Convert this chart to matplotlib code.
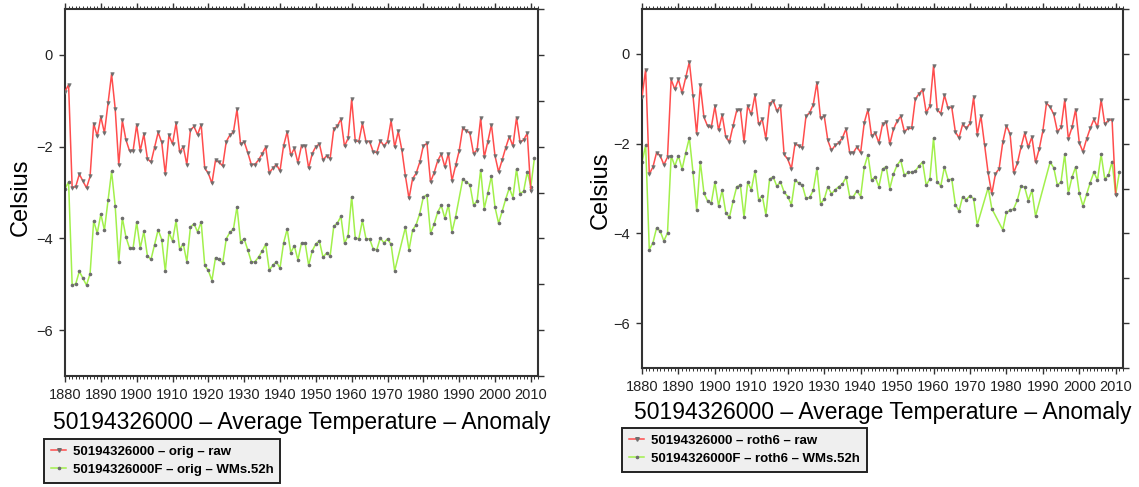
import matplotlib
matplotlib.use("Agg")
import matplotlib.pyplot as plt
from matplotlib.ticker import MultipleLocator
from matplotlib.lines import Line2D

plt.rcParams["font.family"] = ["Liberation Sans", "DejaVu Sans"]

# --- data (Celsius anomalies) ---
station = "50194326000"
raw_years = list(range(1880, 2011))

orig_raw = [
    -0.80, -0.65, -2.90, -2.87, -2.60, -2.75, -2.90, -2.65, -1.50, -1.77,
    -1.35, -1.70, -1.05, -0.42, -1.17, -2.40, -1.43, -1.85, -2.09, -2.09,
    -1.53, -2.09, -1.73, -2.26, -2.34, -2.02, -1.69, -1.91, -2.60, -1.75,
    -1.94, -1.49, -2.12, -2.00, -2.39, -1.64, -1.56, -1.74, -1.52, -2.47,
    -2.58, -2.80, -2.30, -2.34, -2.42, -1.89, -1.75, -1.68, -1.19, -1.95,
    -1.89, -2.13, -2.39, -2.39, -2.29, -2.16, -2.01, -2.57, -2.47, -2.39,
    -2.53, -1.98, -1.68, -2.19, -2.04, -2.35, -1.98, -1.98, -2.47, -2.15,
    -2.00, -1.94, -2.29, -2.20, -2.26, -1.62, -1.55, -1.40, -1.99, -1.82,
    -0.97, -1.87, -1.89, -1.49, -1.89, -1.89, -2.11, -2.13, -1.87, -1.98,
    -1.89, -1.43, -2.01, -1.67, -2.07, -2.64, -3.13, -2.70, -2.58, -2.34,
    -1.98, -1.93, -2.77, -2.57, -2.31, -2.16, -2.44, -2.15, -2.74, -2.41,
    -2.09, -1.59, -1.65, -1.71, -2.15, -2.07, -1.38, -2.23, -1.89, -1.52,
    -2.20, -2.55, -2.29, -2.02, -1.78, -1.99, -1.37, -1.91, -1.85, -1.71,
    -2.97,
]

orig_gaps = [1973, 1974, 1990]
orig_adj = [
    -2.92, -2.77, -5.02, -4.99, -4.72, -4.87, -5.02, -4.77, -3.62, -3.89,
    -3.47, -3.82, -3.17, -2.54, -3.29, -4.52, -3.55, -3.97, -4.21, -4.21,
    -3.65, -4.21, -3.85, -4.38, -4.46, -4.14, -3.81, -4.03, -4.72, -3.87,
    -4.06, -3.61, -4.24, -4.12, -4.51, -3.76, -3.68, -3.86, -3.64, -4.59,
    -4.70, -4.92, -4.42, -4.46, -4.54, -4.01, -3.87, -3.80, -3.31, -4.07,
    -4.01, -4.25, -4.51, -4.51, -4.41, -4.28, -4.13, -4.69, -4.59, -4.51,
    -4.65, -4.10, -3.80, -4.31, -4.16, -4.47, -4.10, -4.10, -4.59, -4.27,
    -4.12, -4.06, -4.41, -4.32, -4.38, -3.74, -3.67, -3.52, -4.11, -3.94,
    -3.09, -3.99, -4.01, -3.61, -4.01, -4.01, -4.23, -4.25, -3.99, -4.10,
    -4.01, -4.13, -4.71, -3.76, -4.25, -3.82, -3.70, -3.46,
    -3.10, -3.05, -3.89, -3.69, -3.43, -3.28, -3.56, -3.27, -3.86, -3.53,
    -2.71, -2.77, -2.83, -3.27, -3.19, -2.50, -3.35, -3.01, -2.64,
    -3.32, -3.67, -3.41, -3.14, -2.90, -3.11, -2.49, -3.03, -2.97, -2.55,
    -2.87, -2.25,
]

roth6_raw = [
    -0.96, -0.35, -2.68, -2.52, -2.20, -2.27, -2.47, -2.30, -0.57, -0.79,
    -0.57, -0.87, -0.52, -0.18, -0.94, -1.79, -0.70, -1.41, -1.61, -1.64,
    -1.17, -1.70, -1.36, -1.85, -1.96, -1.60, -1.26, -1.24, -1.96, -1.16,
    -1.35, -0.92, -1.57, -1.46, -1.89, -1.11, -1.04, -1.27, -1.16, -2.24,
    -2.35, -2.56, -2.00, -2.05, -2.09, -1.39, -1.31, -1.13, -0.64, -1.44,
    -1.38, -1.93, -2.15, -2.04, -1.98, -1.87, -1.67, -2.20, -2.20, -2.07,
    -2.20, -1.53, -1.24, -1.83, -1.76, -1.98, -1.57, -1.51, -2.01, -1.68,
    -1.50, -1.39, -1.73, -1.66, -1.66, -1.01, -0.89, -0.80, -1.31, -1.16,
    -0.27, -1.24, -1.33, -0.92, -1.21, -1.19, -1.74, -1.87, -1.57, -1.66,
    -1.55, -0.97, -1.80, -1.38, -2.02, -2.66, -3.12, -2.67, -2.56, -1.97,
    -1.60, -1.78, -2.65, -2.44, -2.08, -1.77, -2.08, -1.85, -2.42, -2.12,
    -1.72, -1.10, -1.18, -1.35, -1.73, -1.64, -1.03, -1.89, -1.64, -1.24,
    -1.98, -2.18, -1.90, -1.66, -1.46, -1.63, -1.02, -1.57, -1.48, -1.47,
    -3.14,
]

roth6_gaps = [1973, 1974, 1977, 1978, 1989, 1990, 1991]
roth6_adj = [
    -2.42, -2.03, -4.36, -4.21, -3.88, -3.95, -4.17, -3.99, -2.27, -2.50,
    -2.27, -2.57, -2.20, -1.87, -2.64, -3.49, -2.40, -3.10, -3.28, -3.33,
    -2.86, -3.38, -3.04, -3.54, -3.64, -3.28, -2.96, -2.93, -3.64, -2.86,
    -3.03, -2.61, -3.25, -3.16, -3.59, -2.79, -2.74, -2.95, -2.85, -3.08,
    -3.18, -3.36, -2.81, -2.88, -2.93, -3.22, -3.20, -3.04, -2.55, -3.34,
    -3.24, -2.96, -3.12, -3.03, -2.96, -2.90, -2.75, -3.18, -3.18, -3.05,
    -3.18, -2.52, -2.25, -2.81, -2.74, -2.96, -2.57, -2.51, -3.00, -2.68,
    -2.48, -2.37, -2.71, -2.64, -2.64, -2.61, -2.50, -2.41, -2.93, -2.78,
    -1.88, -2.85, -2.94, -2.52, -2.81, -2.79, -3.36, -3.50, -3.18, -3.25,
    -3.16, -3.23, -3.81, -2.98, -3.45, -3.92,
    -3.53, -3.49, -3.45, -3.26, -2.95, -2.97, -3.27, -3.04, -3.62,
    -2.41, -2.54, -2.93, -2.85, -2.24, -3.10, -2.75, -2.52,
    -3.10, -3.39, -3.13, -2.87, -2.64, -2.81, -2.24, -2.79, -2.70, -2.40,
    -3.13, -2.64,
]

RED = "#ff4d4d"
GREEN = "#a2f04c"
MARK = "#6e6e6e"
SPINE = "#333333"

W, H = 1139, 487
fig = plt.figure(figsize=(W / 100, H / 100), dpi=100)


def panel(box, method, raw, adj, gaps, title_y, legend_box, label_xy):
    l, t, r, b = box
    ax = fig.add_axes([l / W, 1 - b / H, (r - l) / W, (b - t) / H])
    adj_years = [y for y in range(1880, 2012) if y not in gaps]

    ax.plot(adj_years, adj, color=GREEN, lw=1.1, marker="o", ms=1.6,
            mfc=MARK, mec=MARK, zorder=2)
    ax.plot(raw_years, raw, color=RED, lw=1.1, marker="v", ms=2.6,
            mfc=MARK, mec=MARK, mew=0.4, zorder=3)

    ax.set_xlim(1880, 2012)
    ax.set_ylim(-7, 1)
    ax.xaxis.set_major_locator(MultipleLocator(10))
    ax.xaxis.set_minor_locator(MultipleLocator(1))
    ax.yaxis.set_major_locator(MultipleLocator(2))
    ax.yaxis.set_minor_locator(MultipleLocator(1))
    ax.tick_params(axis="x", which="major", direction="out", top=True,
                   length=4.5, width=1, color=SPINE, labelsize=10.5, pad=4)
    ax.tick_params(axis="x", which="minor", direction="out", top=True,
                   length=2, width=0.7, color=SPINE)
    ax.tick_params(axis="y", which="major", direction="out", left=True,
                   right=True, length=4, width=1, color=SPINE,
                   labelsize=10.5, pad=5)
    ax.tick_params(axis="y", which="minor", direction="out", left=False,
                   right=True, length=4, width=1, color=SPINE)
    for s in ax.spines.values():
        s.set_color(SPINE)
        s.set_linewidth(1.5)
    for lab in ax.get_xticklabels() + ax.get_yticklabels():
        lab.set_color("#222222")

    ax.set_ylabel("Celsius", fontsize=17)
    ax.yaxis.set_label_coords(*label_xy)

    fig.text((l + r) / 2 / W, 1 - title_y / H,
             f"{station} \u2013 Average Temperature \u2013 Anomaly",
             ha="center", va="center", fontsize=16.5)

    handles = [
        Line2D([], [], color=RED, lw=1.1, marker="v", ms=2.6, mfc=MARK,
               mec=MARK),
        Line2D([], [], color=GREEN, lw=1.1, marker="o", ms=1.6, mfc=MARK,
               mec=MARK),
    ]
    labels = [f"{station} \u2013 {method} \u2013 raw",
              f"{station}F \u2013 {method} \u2013 WMs.52h"]
    lx, ly = legend_box
    leg = fig.legend(handles, labels, loc="upper left",
                     bbox_to_anchor=(lx / W, 1 - ly / H),
                     bbox_transform=fig.transFigure, borderaxespad=0,
                     fancybox=False, frameon=True, framealpha=1,
                     facecolor="#efefef", edgecolor="#222222",
                     prop={"weight": "bold", "size": 9.5},
                     handlelength=1.2, handletextpad=0.5, labelspacing=0.45,
                     borderpad=0.5, numpoints=1)
    leg.get_frame().set_linewidth(1.4)
    return ax


panel((65, 9, 538, 376), "orig", orig_raw, orig_adj, orig_gaps,
      423, (44, 439), (-0.07, 0.488))
panel((642, 9, 1123, 368), "roth6", roth6_raw, roth6_adj, roth6_gaps,
      413, (622, 428), (-0.062, 0.496))

fig.savefig("out.png", dpi=100, facecolor="white")
